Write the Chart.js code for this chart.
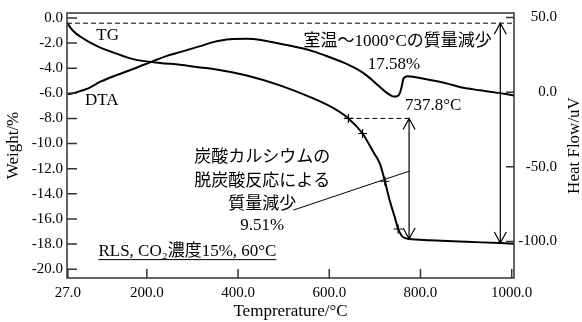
<!DOCTYPE html>
<html>
<head>
<meta charset="utf-8">
<script src="https://cdn.jsdelivr.net/npm/chart.js@4.4.0/dist/chart.umd.min.js"></script>
<style>
  html, body { margin: 0; padding: 0; background: #fff; }
  #wrap { width: 582px; height: 322px; }
</style>
</head>
<body>
<div id="wrap"><canvas id="tgChart"></canvas></div>
<script>
// TG curve: temperature (°C) / weight change (%)
const tgTemp = [27, 30, 36, 45, 54, 75, 97, 130, 170, 229, 273, 317, 346, 419, 492, 565, 605, 642, 673, 697, 711, 722, 733, 744, 751, 759, 768, 775, 821, 900, 975, 1005];
const tgWeight = [-0.42, -0.65, -0.94, -1.25, -1.48, -1.95, -2.34, -2.8, -3.28, -3.59, -3.72, -3.95, -4.06, -4.58, -5.37, -6.41, -7.1, -8.0, -9.2, -10.7, -11.6, -13.0, -14.6, -15.9, -16.8, -17.34, -17.55, -17.6, -17.7, -17.82, -17.92, -17.97];

// DTA curve: temperature (°C) / heat flow (uV)
const dtaTemp = [27, 36, 47, 75, 97, 130, 170, 210, 244, 273, 317, 345, 382, 420, 455, 492, 530, 565, 600, 639, 663, 683, 698, 711, 722, 733, 742, 749, 755, 759, 762, 767, 771, 780, 793, 825, 859, 894, 931, 970, 1005];
const dtaHeat = [-1.3, -0.9, 0, 3.0, 6.8, 11, 15.5, 20.3, 24.3, 26.8, 30.8, 33.5, 35.5, 35.7, 34.6, 32.4, 30, 27.3, 23.5, 18.8, 15, 10.9, 7, 3.5, 0.5, -1.8, -3.0, -2.8, -0.5, 4, 8.5, 10.2, 10.7, 10.4, 9.8, 7.9, 5.7, 2.9, 1.2, -0.5, -2.2];

// + marks on the TG curve
const markTemp = [642, 673, 722, 751];
const markWeight = [-8.0, -9.2, -13.0, -16.8];

const xTicks = [27, 200, 400, 600, 800, 1000];
const weightTicks = [0, -2, -4, -6, -8, -10, -12, -14, -16, -18, -20];
const heatTicks = [50, 0, -50, -100];

// reference levels for the weight-loss arrows
const startWeight = -0.42;
const onsetWeight = -8.0;
const onsetTemp = 642;
const arrowTemp1 = 775;
const arrowEnd1 = -17.6;
const arrowTemp2 = 975;
const arrowEnd2 = -17.92;

const SERIF = '"Liberation Serif", "Noto Sans CJK JP", serif';
Chart.defaults.font.family = SERIF;
Chart.defaults.color = '#000';

function toPts(xs, ys) {
  return xs.map((v, i) => ({ x: v, y: ys[i] }));
}

function vArrow(ctx, xp, top, bottom) {
  ctx.beginPath();
  ctx.moveTo(xp, top);
  ctx.lineTo(xp, bottom);
  ctx.moveTo(xp - 6, top + 11);
  ctx.lineTo(xp, top);
  ctx.lineTo(xp + 6, top + 11);
  ctx.moveTo(xp - 6, bottom - 11);
  ctx.lineTo(xp, bottom);
  ctx.lineTo(xp + 6, bottom - 11);
  ctx.stroke();
}

const decor = {
  id: 'decor',
  afterDatasetsDraw(chart) {
    const { ctx, chartArea: a, scales } = chart;
    const px = v => scales.x.getPixelForValue(v);
    const py = v => scales.y.getPixelForValue(v);
    ctx.save();

    // frame + inward tick marks
    ctx.strokeStyle = '#333';
    ctx.lineWidth = 1.5;
    ctx.strokeRect(a.left, a.top, a.right - a.left, a.bottom - a.top);
    ctx.beginPath();
    weightTicks.forEach(v => { const p = py(v); ctx.moveTo(a.left, p); ctx.lineTo(a.left + 10, p); });
    heatTicks.forEach(v => { const p = scales.y1.getPixelForValue(v); ctx.moveTo(a.right, p); ctx.lineTo(a.right - 8, p); });
    xTicks.forEach(v => { const p = px(v); ctx.moveTo(p, a.bottom); ctx.lineTo(p, a.bottom - 9); });
    ctx.stroke();

    // arrows
    ctx.strokeStyle = '#000';
    ctx.lineWidth = 1.2;
    vArrow(ctx, px(arrowTemp1), py(onsetWeight), py(arrowEnd1));
    vArrow(ctx, px(arrowTemp2), py(startWeight), py(arrowEnd2));

    // leader line to the 9.51% label
    ctx.lineWidth = 1;
    ctx.beginPath();
    ctx.moveTo(px(521), py(-15.3));
    ctx.lineTo(px(arrowTemp1), py(-12.2));
    ctx.stroke();

    // texts
    ctx.fillStyle = '#000';
    ctx.textAlign = 'center';
    ctx.textBaseline = 'middle';
    ctx.font = '17px ' + SERIF;
    const put = (t, tx, wy) => ctx.fillText(t, px(tx), py(wy));
    put('TG', 114, -1.4);
    put('DTA', 101, -6.6);
    put('室温～1000°Cの質量減少', 750, -1.88);
    put('17.58%', 742, -3.75);
    put('737.8°C', 828, -7.0);
    put('炭酸カルシウムの', 453, -11.1);
    put('脱炭酸反応による', 453, -13.0);
    put('質量減少', 453, -14.84);
    put('9.51%', 453, -16.56);

    const rls = 'RLS, CO₂濃度15%, 60°C';
    put(rls, 289, -18.6);
    const w = ctx.measureText(rls).width;
    ctx.lineWidth = 1;
    ctx.beginPath();
    ctx.moveTo(px(289) - w / 2, py(-18.6) + 8);
    ctx.lineTo(px(289) + w / 2, py(-18.6) + 8);
    ctx.stroke();

    // right axis title, reading bottom to top
    ctx.translate(575, (a.top + a.bottom) / 2);
    ctx.rotate(-Math.PI / 2);
    ctx.fillText('Heat Flow/uV', 0, 0);
    ctx.restore();
  }
};

const lineStyle = {
  borderColor: '#000',
  borderWidth: 2,
  pointRadius: 0,
  cubicInterpolationMode: 'monotone',
  fill: false
};

new Chart(document.getElementById('tgChart'), {
  type: 'line',
  data: {
    datasets: [
      { ...lineStyle, label: 'TG', data: toPts(tgTemp, tgWeight), yAxisID: 'y' },
      { ...lineStyle, label: 'DTA', data: toPts(dtaTemp, dtaHeat), yAxisID: 'y1' },
      {
        label: 'start', data: [{ x: 25, y: startWeight }, { x: 1005, y: startWeight }], yAxisID: 'y',
        borderColor: '#000', borderWidth: 1, borderDash: [5, 3], pointRadius: 0
      },
      {
        label: 'onset', data: [{ x: onsetTemp, y: onsetWeight }, { x: arrowTemp1, y: onsetWeight }], yAxisID: 'y',
        borderColor: '#000', borderWidth: 1, borderDash: [5, 3], pointRadius: 0
      },
      {
        label: 'marks', data: toPts(markTemp, markWeight), yAxisID: 'y', showLine: false,
        pointStyle: 'cross', pointRadius: 4.5, borderColor: '#000', borderWidth: 1.2
      }
    ]
  },
  options: {
    responsive: true,
    maintainAspectRatio: false,
    devicePixelRatio: 1,
    animation: false,
    layout: { padding: { top: 8, left: 0, right: 25, bottom: 0 } },
    plugins: { legend: { display: false }, tooltip: { enabled: false } },
    scales: {
      x: {
        type: 'linear',
        min: 25,
        max: 1005,
        afterBuildTicks: s => { s.ticks = xTicks.map(v => ({ value: v })); },
        afterFit: s => { s.height = 44; },
        grid: { display: false, drawTicks: false },
        border: { display: false },
        ticks: { font: { size: 15 }, padding: 6, maxRotation: 0, callback: v => v.toFixed(1) },
        title: { display: true, text: 'Temprerature/°C', font: { size: 17 }, padding: { top: 0, bottom: 0 } }
      },
      y: {
        position: 'left',
        min: -20.7,
        max: 0.39,
        afterBuildTicks: s => { s.ticks = weightTicks.map(v => ({ value: v })); },
        afterFit: s => { s.width = 67; },
        grid: { display: false, drawTicks: false },
        border: { display: false },
        ticks: { font: { size: 15 }, padding: 4, callback: v => v.toFixed(1) },
        title: { display: true, text: 'Weight/%', font: { size: 17 }, padding: { top: 3, bottom: 0 } }
      },
      y1: {
        position: 'right',
        min: -124.5,
        max: 53,
        afterBuildTicks: s => { s.ticks = heatTicks.map(v => ({ value: v })); },
        afterFit: s => { s.width = 43; },
        grid: { display: false, drawTicks: false },
        border: { display: false },
        ticks: { font: { size: 15 }, padding: 4, crossAlign: 'far', callback: v => v.toFixed(1) }
      }
    }
  },
  plugins: [decor]
});
</script>
</body>
</html>
